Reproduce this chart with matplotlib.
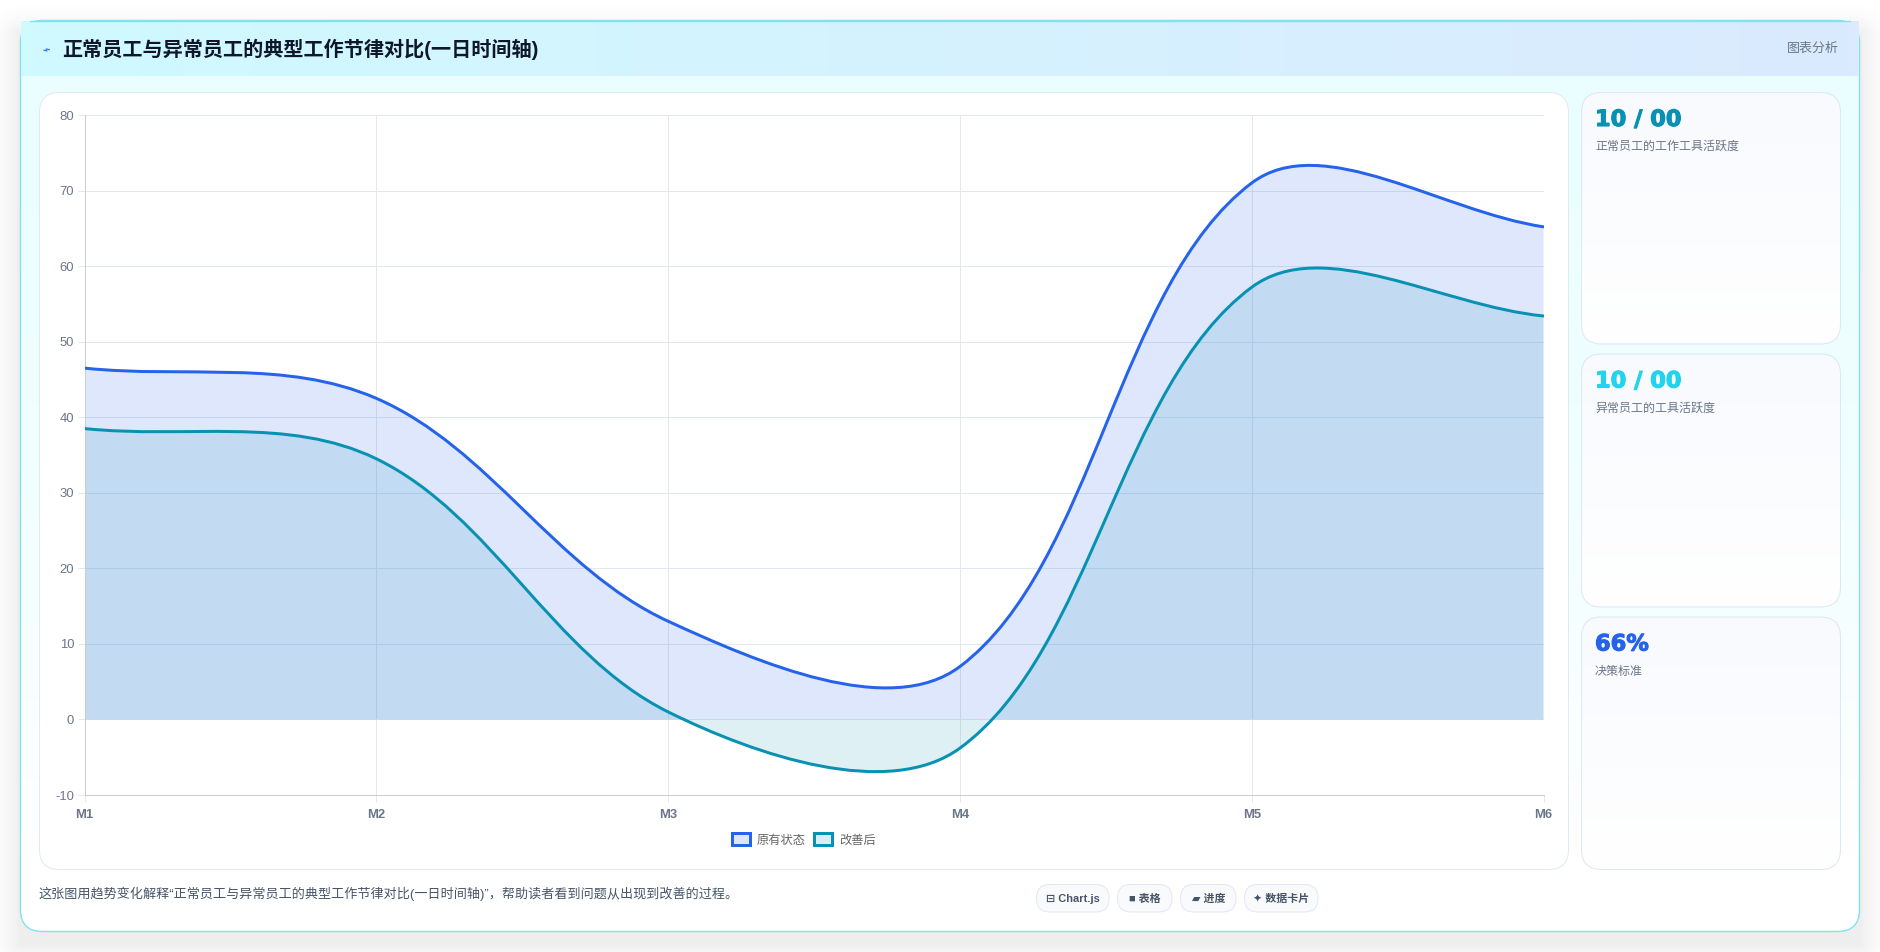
import numpy as np
import matplotlib
matplotlib.use("Agg")
import matplotlib.pyplot as plt
import matplotlib.patheffects as pe
from matplotlib.colors import LinearSegmentedColormap
from matplotlib.patches import FancyBboxPatch, Patch, PathPatch
from matplotlib.path import Path

# Dados do gráfico
months = ["M1", "M2", "M3", "M4", "M5", "M6"]
original = [46.5, 42.5, 13, 7, 71, 65.2]
improved = [38.5, 34.5, 1, -3.8, 57.2, 53.4]
yticks = [-10, 0, 10, 20, 30, 40, 50, 60, 70, 80]
series_names = ["原有状态", "改善后"]

title = "正常员工与异常员工的典型工作节律对比(一日时间轴)"
caption = "这张图用趋势变化解释“正常员工与异常员工的典型工作节律对比(一日时间轴)”，帮助读者看到问题从出现到改善的过程。"
card_values = ["10 / 00", "10 / 00", "66%"]
card_labels = ["正常员工的工作工具活跃度", "异常员工的工具活跃度", "决策标准"]
pill_labels = ["⊟ Chart.js", "■ 表格", "▰ 进度", "✦ 数据卡片"]

# Cores
BLUE = "#2563eb"
TEAL = "#0891b2"
CYAN = "#22d3ee"
GRID = "#e2e8f0"
AXIS = "#c8ced8"
MUTED = "#6b7688"
SLATE = "#475569"
CJK = ["Liberation Sans", "Noto Sans CJK SC", "DejaVu Sans"]

plt.rcParams["axes.unicode_minus"] = False

W, H = 1880, 952
px = 72 / 100  # 1 px em pontos, com dpi 100

fig = plt.figure(figsize=(W / 100, H / 100), dpi=100, facecolor="white")

# Camada de fundo em coordenadas de pixel
bg = fig.add_axes([0, 0, 1, 1], zorder=0)
bg.axis("off")


def rounded(x0, y0, x1, y1, r, **kw):
    patch = FancyBboxPatch((x0 + r, y0 + r), x1 - x0 - 2 * r, y1 - y0 - 2 * r,
                           boxstyle=f"round,pad={r},rounding_size={r}", **kw)
    bg.add_patch(patch)
    return patch


def gradient(extent, colors, horizontal=False, clip=None, zorder=1):
    # A primeira cor fica no topo (ou à esquerda)
    ramp = np.linspace(0, 1, 256).reshape(-1, 1)
    if horizontal:
        ramp = ramp.T
    cmap = LinearSegmentedColormap.from_list("g", colors)
    im = bg.imshow(ramp, extent=extent, cmap=cmap, aspect="auto", zorder=zorder,
                   interpolation="bilinear")
    if clip is not None:
        im.set_clip_path(clip)
    return im


# Sombra do cartão principal
gx, gy = np.meshgrid(np.arange(W) + 0.5, np.arange(H) + 0.5)
dx = np.maximum(np.maximum(20 - gx, gx - 1860), 0)
dy = np.maximum(np.maximum(36 - gy, gy - 943), 0)
dist = np.hypot(dx, dy)
rgba = np.zeros((H, W, 4))
rgba[..., 3] = np.clip(1 - dist / 40, 0, 1) ** 2 * 0.07
bg.imshow(rgba, extent=(0, W, H, 0), aspect="auto", zorder=0.5)

# Cartão principal
frame = rounded(20.5, 20.5, 1859.5, 931.5, 22, facecolor="white", edgecolor="none", zorder=0.9)
gradient((20, 1860, 860, 76), ["#eafeff", "#f0feff", "#ffffff"], clip=frame, zorder=1)
rounded(20.5, 20.5, 1859.5, 931.5, 22, facecolor="none", edgecolor="#7fe3f2",
        linewidth=1.4 * px, zorder=1.1)
gradient((21, 1859, 76, 21), ["#cffafe", "#dbeafe"], horizontal=True, zorder=1.2)
bg.plot([30, 1850], [20.5, 20.5], color="#7fe3f2", linewidth=1.4 * px, zorder=1.3)

bg.text(47, 50, "⌁", family="DejaVu Sans", fontsize=13 * px, color=BLUE, ha="center",
        va="center", rotation=20, zorder=3)
bg.text(62, 49.5, title, family=CJK, fontsize=20.1 * px, fontweight="bold", color="#0f172a",
        va="center", zorder=3)
bg.text(1839, 48.5, "图表分析", family=CJK, fontsize=13 * px, fontweight="medium", color=MUTED,
        ha="right", va="center", zorder=3)

# Painel do gráfico e cartões laterais
rounded(39.5, 92.5, 1568.5, 869.5, 20, facecolor="white", edgecolor="#dfeaf2",
        linewidth=1 * px, zorder=1.5)

card_boxes = [(92.5, 344), (354, 607), (617, 869.5)]
card_colors = [TEAL, CYAN, BLUE]
for (top, bottom), value, label, color in zip(card_boxes, card_values, card_labels, card_colors):
    box = rounded(1581.5, top, 1840.5, bottom, 20, facecolor="white", edgecolor="none", zorder=1.4)
    gradient((1581, 1841, bottom, top), ["#f8fafe", "#ffffff"], clip=box, zorder=1.5)
    rounded(1581.5, top, 1840.5, bottom, 20, facecolor="none", edgecolor="#dbe8f5",
            linewidth=1 * px, zorder=1.6)
    bg.text(1595, top + 27.5, value, family="DejaVu Sans", fontsize=22.5 * px, fontweight="bold",
            color=color, va="center", zorder=3,
            path_effects=[pe.withStroke(linewidth=1.1 * px, foreground=color)])
    bg.text(1595, top + 54.5, label, family=CJK, fontsize=12 * px, fontweight="medium", color=MUTED,
            va="center", zorder=3)

# Rodapé
bg.text(38.5, 894, caption, family=CJK, fontsize=13.1 * px, fontweight="medium", color=SLATE,
        va="center", zorder=3)
pill_spans = [(1036.5, 1109), (1117.5, 1172), (1180.5, 1236), (1244.5, 1318)]
for (x0, x1), label in zip(pill_spans, pill_labels):
    rounded(x0, 884.5, x1, 912, 13.5, facecolor="#f8fafc", edgecolor=GRID, linewidth=1 * px, zorder=2)
    bg.text((x0 + x1) / 2, 898.5, label, family=CJK, fontsize=11 * px, fontweight="bold",
            color=SLATE, ha="center", va="center", zorder=3)

bg.set_xlim(0, W)
bg.set_ylim(H, 0)

# Eixos do gráfico
left, right, top, bottom = 84.5, 1543.5, 115, 795
ax = fig.add_axes([left / W, 1 - bottom / H, (right - left) / W, (bottom - top) / H], zorder=2)
ax.patch.set_alpha(0)
x = np.arange(len(months))
ax.set_xlim(0, len(months) - 1)
ax.set_ylim(-10, 80)
ax.set_xticks(x, months)
ax.set_yticks(yticks)
ax.grid(True, color=GRID, linewidth=1 * px)
ax.set_axisbelow(True)
ax.tick_params(axis="both", length=7 * px, width=1 * px, color=GRID, labelcolor=MUTED)
ax.tick_params(axis="x", pad=5)
ax.tick_params(axis="y", pad=2.5)
for lab in ax.get_yticklabels():
    lab.set(family="Liberation Sans", fontsize=13 * px)
for lab in ax.get_xticklabels():
    lab.set(family="Liberation Sans", fontsize=13 * px, fontweight="bold")
for side in ("top", "right"):
    ax.spines[side].set_visible(False)
for side in ("left", "bottom"):
    ax.spines[side].set(color=AXIS, linewidth=1 * px)


def spline_path(values, tension=0.35):
    # Bézier cúbica com a regra de controle do Chart.js, calculada em pixels
    pts = ax.transData.transform(np.column_stack([x, values]))
    n = len(pts)
    verts = [pts[0]]
    codes = [Path.MOVETO]
    out_ctrl = pts[0] + tension * (pts[1] - pts[0])
    for i in range(1, n):
        cur = pts[i]
        prev = pts[i - 1]
        nxt = pts[i + 1] if i < n - 1 else cur
        d01 = np.linalg.norm(cur - prev)
        d12 = np.linalg.norm(nxt - cur)
        in_ctrl = cur - tension * d01 / (d01 + d12) * (nxt - prev)
        verts += [out_ctrl, in_ctrl, cur]
        codes += [Path.CURVE4] * 3
        out_ctrl = cur + tension * d12 / (d01 + d12) * (nxt - prev)
    return ax.transData.inverted().transform(np.array(verts)), codes


for values, color, alpha in ((original, BLUE, 0.15), (improved, TEAL, 0.13)):
    verts, codes = spline_path(values)
    base = np.array([[x[-1], 0], [x[0], 0], verts[0]])
    area = Path(np.vstack([verts, base]), codes + [Path.LINETO, Path.LINETO, Path.CLOSEPOLY])
    ax.add_patch(PathPatch(area, facecolor=color, alpha=alpha, edgecolor="none", zorder=2))
    ax.add_patch(PathPatch(Path(verts, codes), facecolor="none", edgecolor=color,
                           linewidth=3 * px, capstyle="round", zorder=3))

# Legenda
handles = [Patch(facecolor="#dbe6fb", edgecolor=BLUE, linewidth=3 * px, label=series_names[0]),
           Patch(facecolor="#d9edf3", edgecolor=TEAL, linewidth=3 * px, label=series_names[1])]
bg.legend(handles=handles, ncol=2, loc="center", bbox_to_anchor=(804, 840),
          bbox_transform=bg.transData, frameon=False, borderpad=0, borderaxespad=0,
          handlelength=17 / 12, handleheight=13 / 12, handletextpad=7 / 12, columnspacing=8 / 12,
          prop={"family": CJK, "size": 12.3 * px, "weight": "medium"},
          labelcolor="#666666").set_zorder(3)

fig.savefig("out.png", dpi=100)
